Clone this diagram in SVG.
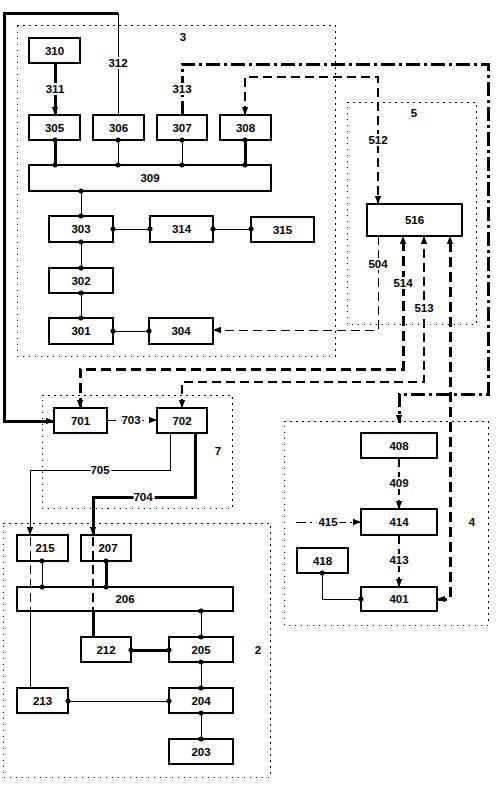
<svg xmlns="http://www.w3.org/2000/svg" width="502" height="787" viewBox="0 0 502 787">
<style>
.bg{fill:#fff}
.box rect{fill:#fff;stroke:#000;stroke-width:1.5;shape-rendering:crispEdges}
text{font-family:"Liberation Sans",Arial,sans-serif;font-size:11.5px;font-weight:bold;fill:#000;text-anchor:middle;dominant-baseline:central}
.lbl{stroke:#fff;stroke-width:4;paint-order:stroke}
.cont{fill:none;stroke:#000;stroke-width:1;stroke-dasharray:1.5 4.5;shape-rendering:crispEdges}
.c{fill:none;stroke:#000;stroke-width:1;shape-rendering:crispEdges}
.t{fill:none;stroke:#000;stroke-width:3;shape-rendering:crispEdges}
.d1{fill:none;stroke:#000;stroke-width:1;stroke-dasharray:9 5;shape-rendering:crispEdges}
.d2{fill:none;stroke:#000;stroke-width:2;stroke-dasharray:9 5;shape-rendering:crispEdges}
.d3{fill:none;stroke:#000;stroke-width:3;stroke-dasharray:10 5;shape-rendering:crispEdges}
.dd{fill:none;stroke:#000;stroke-width:3;stroke-dasharray:14 4 3 4;shape-rendering:crispEdges}
.dd1{fill:none;stroke:#000;stroke-width:1;stroke-dasharray:10 4 2 4;shape-rendering:crispEdges}
.dot{fill:#000}
</style>
<defs>
<marker id="a" viewBox="0 0 10 10" refX="10" refY="5" markerWidth="8" markerHeight="8" markerUnits="userSpaceOnUse" orient="auto-start-reverse">
<path d="M0,1 L10,5 L0,9 z" fill="#000"/>
</marker>
</defs>
<rect class="bg" x="0" y="0" width="502" height="787"/>

<g id="containers">
<rect class="cont" x="17" y="25" width="318" height="331"/>
<rect class="cont" x="347" y="102" width="129" height="222"/>
<rect class="cont" x="42" y="395" width="190" height="113"/>
<rect class="cont" x="3" y="523" width="267" height="254"/>
<rect class="cont" x="284" y="421" width="204" height="204"/>
<text x="183" y="37">3</text>
<text x="414" y="113">5</text>
<text x="218" y="451">7</text>
<text x="258" y="650">2</text>
<text x="472" y="522">4</text>
</g>

<g id="connectors">
<path class="c" d="M118,115 V13"/>
<path class="t" d="M118,13 H4 V421 H54" marker-end="url(#a)"/>
<path class="t" d="M55,63 V115" marker-end="url(#a)"/>
<path class="dd" d="M182,115 V64 H488 V394 H399 V423" marker-end="url(#a)"/>
<path class="d2" d="M245,115 V77 H378 V204" marker-start="url(#a)" marker-end="url(#a)"/>
<path class="t" d="M55,140 V165"/>
<path class="c" d="M118,140 V165"/>
<path class="c" d="M182,140 V165"/>
<path class="t" d="M245,140 V165"/>
<path class="c" d="M81,191 V216"/>
<path class="c" d="M113,229 H150"/>
<path class="c" d="M213,229 H251"/>
<path class="c" d="M81,242 V268"/>
<path class="c" d="M81,293 V318"/>
<path class="c" d="M113,331 H149"/>
<path class="d1" d="M378,236 V330 H213" marker-end="url(#a)"/>
<path class="d3" d="M80,408 V369 H403 V236" marker-start="url(#a)" marker-end="url(#a)"/>
<path class="d2" d="M182,408 V382 H424 V236" marker-start="url(#a)" marker-end="url(#a)"/>
<path class="d3" d="M437,599 H450 V236" marker-start="url(#a)" marker-end="url(#a)"/>
<path class="d1" d="M107,420 H157" marker-end="url(#a)"/>
<path class="c" d="M170,433 V470 H30 V535" marker-end="url(#a)"/>
<path class="t" d="M195,433 V497 H93 V535" marker-end="url(#a)"/>
<path class="c" d="M42,561 V587"/>
<path class="t" d="M106,561 V587"/>
<path class="c" d="M201,611 V637"/>
<path class="t" d="M131,650 H169"/>
<path class="c" d="M201,662 V688"/>
<path class="c" d="M201,713 V739"/>
<path class="c" d="M68,701 H169"/>
<path class="c" d="M30,611 V688"/>
<path class="t" d="M93,611 V637"/>
<path class="d2" d="M399,458 V509" marker-end="url(#a)"/>
<path class="d2" d="M399,535 V587" marker-end="url(#a)"/>
<path class="dd1" d="M296,522 H361" marker-end="url(#a)"/>
<path class="c" d="M322,573 V599 H361"/>
<text class="lbl" x="118" y="63">312</text>
<text class="lbl" x="55" y="89">311</text>
<text class="lbl" x="182" y="89">313</text>
<text class="lbl" x="378" y="140">512</text>
<text class="lbl" x="378" y="264">504</text>
<text class="lbl" x="403" y="283">514</text>
<text class="lbl" x="424" y="308">513</text>
<text class="lbl" x="131" y="420">703</text>
<text class="lbl" x="100" y="470">705</text>
<text class="lbl" x="143" y="497">704</text>
<text class="lbl" x="399" y="483">409</text>
<text class="lbl" x="399" y="560">413</text>
<text class="lbl" x="328" y="522">415</text>
</g>

<g id="n310" class="box"><rect x="29" y="38" width="51" height="25"/><text x="54.5" y="50.5">310</text></g>
<g id="n305" class="box"><rect x="29" y="115" width="51" height="25"/><text x="54.5" y="127.5">305</text></g>
<g id="n306" class="box"><rect x="93" y="115" width="51" height="25"/><text x="118.5" y="127.5">306</text></g>
<g id="n307" class="box"><rect x="157" y="115" width="50" height="25"/><text x="182" y="127.5">307</text></g>
<g id="n308" class="box"><rect x="220" y="115" width="51" height="25"/><text x="245.5" y="127.5">308</text></g>
<g id="n309" class="box"><rect x="29" y="165" width="242" height="26"/><text x="150" y="178">309</text></g>
<g id="n303" class="box"><rect x="49" y="216" width="64" height="26"/><text x="81" y="229">303</text></g>
<g id="n314" class="box"><rect x="150" y="216" width="63" height="26"/><text x="181.5" y="229">314</text></g>
<g id="n315" class="box"><rect x="251" y="217" width="63" height="25"/><text x="282.5" y="229.5">315</text></g>
<g id="n302" class="box"><rect x="49" y="268" width="64" height="25"/><text x="81" y="280.5">302</text></g>
<g id="n301" class="box"><rect x="49" y="318" width="64" height="26"/><text x="81" y="331">301</text></g>
<g id="n304" class="box"><rect x="149" y="318" width="64" height="26"/><text x="181" y="331">304</text></g>
<g id="n516" class="box"><rect x="367" y="204" width="95" height="32"/><text x="414.5" y="220">516</text></g>
<g id="n701" class="box"><rect x="54" y="408" width="53" height="25"/><text x="80.5" y="420.5">701</text></g>
<g id="n702" class="box"><rect x="157" y="408" width="50" height="25"/><text x="182" y="420.5">702</text></g>
<g id="n215" class="box"><rect x="17" y="535" width="51" height="26"/><text x="45" y="548">215</text></g>
<g id="n207" class="box"><rect x="81" y="535" width="50" height="26"/><text x="108" y="548">207</text></g>
<g id="n206" class="box"><rect x="17" y="587" width="216" height="24"/><text x="125" y="599">206</text></g>
<g id="n212" class="box"><rect x="81" y="637" width="50" height="25"/><text x="106" y="649.5">212</text></g>
<g id="n205" class="box"><rect x="169" y="637" width="64" height="25"/><text x="201" y="649.5">205</text></g>
<g id="n213" class="box"><rect x="17" y="688" width="51" height="25"/><text x="42.5" y="700.5">213</text></g>
<g id="n204" class="box"><rect x="169" y="688" width="64" height="25"/><text x="201" y="700.5">204</text></g>
<g id="n203" class="box"><rect x="169" y="739" width="64" height="25"/><text x="201" y="751.5">203</text></g>
<g id="n408" class="box"><rect x="361" y="433" width="76" height="25"/><text x="399" y="445.5">408</text></g>
<g id="n414" class="box"><rect x="361" y="509" width="76" height="26"/><text x="399" y="522">414</text></g>
<g id="n418" class="box"><rect x="297" y="548" width="51" height="25"/><text x="322.5" y="560.5">418</text></g>
<g id="n401" class="box"><rect x="361" y="587" width="76" height="24"/><text x="399" y="599">401</text></g>

<g id="connector-overlays">
<path class="d1" d="M30,537 V611"/>
<path class="d2" d="M93,537 V611"/>
<g class="dot">
<circle cx="55" cy="140" r="2.5"/><circle cx="55" cy="165" r="2.5"/>
<circle cx="118" cy="140" r="2.5"/><circle cx="118" cy="165" r="2.5"/>
<circle cx="182" cy="140" r="2.5"/><circle cx="182" cy="165" r="2.5"/>
<circle cx="245" cy="140" r="2.5"/><circle cx="245" cy="165" r="2.5"/>
<circle cx="81" cy="191" r="2.5"/><circle cx="81" cy="216" r="2.5"/>
<circle cx="113" cy="229" r="2.5"/><circle cx="150" cy="229" r="2.5"/>
<circle cx="213" cy="229" r="2.5"/><circle cx="251" cy="229" r="2.5"/>
<circle cx="81" cy="242" r="2.5"/><circle cx="81" cy="268" r="2.5"/>
<circle cx="81" cy="293" r="2.5"/><circle cx="81" cy="318" r="2.5"/>
<circle cx="113" cy="331" r="2.5"/><circle cx="149" cy="331" r="2.5"/>
<circle cx="42" cy="561" r="2.5"/><circle cx="42" cy="587" r="2.5"/>
<circle cx="106" cy="561" r="2.5"/><circle cx="106" cy="587" r="2.5"/>
<circle cx="201" cy="611" r="2.5"/><circle cx="201" cy="637" r="2.5"/>
<circle cx="131" cy="650" r="2.5"/><circle cx="169" cy="650" r="2.5"/>
<circle cx="201" cy="662" r="2.5"/><circle cx="201" cy="688" r="2.5"/>
<circle cx="201" cy="713" r="2.5"/><circle cx="201" cy="739" r="2.5"/>
<circle cx="68" cy="701" r="2.5"/><circle cx="169" cy="701" r="2.5"/>
<circle cx="322" cy="573" r="2.5"/><circle cx="361" cy="599" r="2.5"/>
</g>
</g>
</svg>
